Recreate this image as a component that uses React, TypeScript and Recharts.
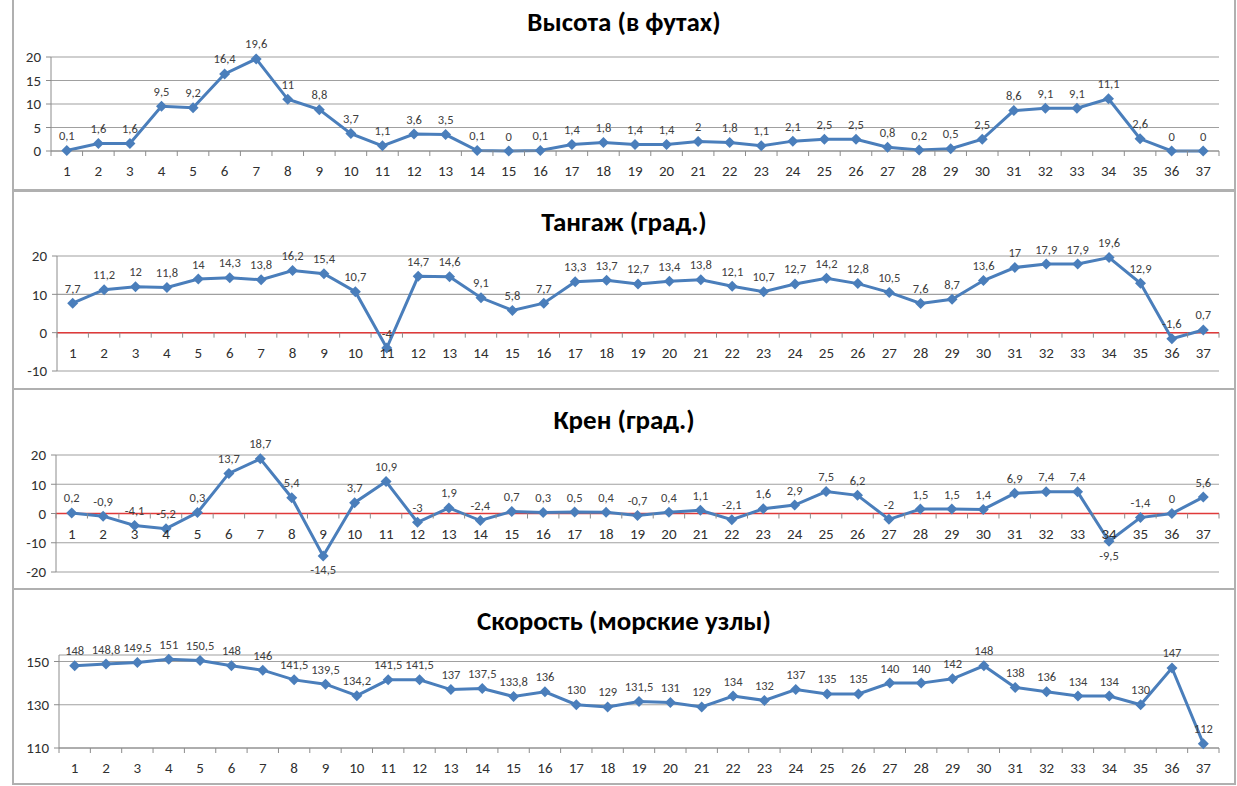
import React from "react"
import { LineChart, Line, XAxis, YAxis, CartesianGrid, ReferenceLine, LabelList } from "recharts"

// номера замеров
const categories = [
  "1", "2", "3", "4", "5", "6", "7", "8", "9", "10", "11", "12", "13", "14", "15", "16", "17", "18", "19",
  "20", "21", "22", "23", "24", "25", "26", "27", "28", "29", "30", "31", "32", "33", "34", "35", "36", "37",
]

const heightValues = [
  0.1, 1.6, 1.6, 9.5, 9.2, 16.4, 19.6, 11, 8.8, 3.7, 1.1, 3.6, 3.5, 0.1, 0, 0.1, 1.4, 1.8, 1.4,
  1.4, 2, 1.8, 1.1, 2.1, 2.5, 2.5, 0.8, 0.2, 0.5, 2.5, 8.6, 9.1, 9.1, 11.1, 2.6, 0, 0,
]
const pitchValues = [
  7.7, 11.2, 12, 11.8, 14, 14.3, 13.8, 16.2, 15.4, 10.7, -4, 14.7, 14.6, 9.1, 5.8, 7.7, 13.3, 13.7, 12.7,
  13.4, 13.8, 12.1, 10.7, 12.7, 14.2, 12.8, 10.5, 7.6, 8.7, 13.6, 17, 17.9, 17.9, 19.6, 12.9, -1.6, 0.7,
]
const rollValues = [
  0.2, -0.9, -4.1, -5.2, 0.3, 13.7, 18.7, 5.4, -14.5, 3.7, 10.9, -3, 1.9, -2.4, 0.7, 0.3, 0.5, 0.4, -0.7,
  0.4, 1.1, -2.1, 1.6, 2.9, 7.5, 6.2, -2, 1.5, 1.5, 1.4, 6.9, 7.4, 7.4, -9.5, -1.4, 0, 5.6,
]
const speedValues = [
  148, 148.8, 149.5, 151, 150.5, 148, 146, 141.5, 139.5, 134.2, 141.5, 141.5, 137, 137.5, 133.8, 136, 130, 129, 131.5,
  131, 129, 134, 132, 137, 135, 135, 140, 140, 142, 148, 138, 136, 134, 134, 130, 147, 112,
]

const heightTicks = [0, 5, 10, 15, 20]
const pitchTicks = [-10, 0, 10, 20]
const rollTicks = [-20, -10, 0, 10, 20]
const speedTicks = [110, 130, 150]

const BLUE = "#4a7ebb"
const FONT = "Carlito, 'Liberation Sans', Arial, sans-serif"
const PLOT_RIGHT = 1219
const PAGE_W = 1237

const fmt = (v: number) => String(v).replace(".", ",")

const Diamond = (props: any) => {
  const { cx, cy, index } = props
  if (cx == null || cy == null) return null
  const r = 5.5
  return (
    <polygon
      key={`d-${index}`}
      points={`${cx},${cy - r} ${cx + r},${cy} ${cx},${cy + r} ${cx - r},${cy}`}
      fill={BLUE}
    />
  )
}

const renderLabel = (props: any) => {
  const x = props.x ?? props.viewBox?.x
  const y = props.y ?? props.viewBox?.y
  const value = props.value as number
  const below = value < -9
  return (
    <text
      x={x}
      y={below ? y + 14 : y - 15}
      textAnchor="middle"
      dominantBaseline="central"
      fontSize={12.5}
      fontFamily={FONT}
      fill="#404040"
    >
      {fmt(value)}
    </text>
  )
}

interface PanelProps {
  title: string
  values: number[]
  ticks: number[]
  domain: [number, number]
  top: number
  bottom: number
  plotTop: number
  plotBottom: number
  plotLeft: number
  titleY: number
  zeroAxis?: boolean
}

function Panel({ title, values, ticks, domain, top, bottom, plotTop, plotBottom, plotLeft, titleY, zeroAxis }: PanelProps) {
  const data = categories.map((c, i) => ({ name: c, value: values[i] }))
  const band = (PLOT_RIGHT - plotLeft) / categories.length
  const plotH = plotBottom - plotTop
  // ось категорий пересекает ось значений в нуле
  const shift = zeroAxis ? -plotH * (0 - domain[0]) / (domain[1] - domain[0]) : 0
  const axisH = 30
  const chartH = plotBottom - top + axisH

  const CatTick = (props: any) => {
    const { x, y, payload, index } = props
    const base = y + shift
    return (
      <g>
        <line x1={x - band / 2} x2={x - band / 2} y1={base} y2={base + 5} stroke="#8c8c8c" />
        {index === categories.length - 1 && (
          <line x1={x + band / 2} x2={x + band / 2} y1={base} y2={base + 5} stroke="#8c8c8c" />
        )}
        <text
          x={x}
          y={base + 20}
          textAnchor="middle"
          dominantBaseline="central"
          fontSize={15}
          fontFamily={FONT}
          fill="#303030"
        >
          {payload.value}
        </text>
      </g>
    )
  }

  return (
    <>
      <div
        style={{
          position: "absolute",
          left: 12,
          top,
          width: 1236 - 12,
          height: bottom - top,
          border: "2px solid #b0b0b0",
          boxSizing: "border-box",
        }}
      />
      <div
        style={{
          position: "absolute",
          left: 12,
          width: 1224,
          top: titleY - 18,
          height: 36,
          lineHeight: "36px",
          textAlign: "center",
          fontFamily: FONT,
          fontWeight: "bold",
          fontSize: 27,
          color: "#000",
        }}
      >
        {title}
      </div>
      <div style={{ position: "absolute", left: 0, top }}>
        <LineChart
          width={PAGE_W}
          height={chartH}
          data={data}
          margin={{ top: plotTop - top, right: PAGE_W - PLOT_RIGHT, bottom: 0, left: plotLeft - 40 }}
        >
          <CartesianGrid vertical={false} stroke="#a0a0a0" strokeWidth={1.2} />
          <XAxis
            dataKey="name"
            interval={0}
            height={axisH}
            padding={{ left: band / 2, right: band / 2 }}
            tickSize={0}
            tickMargin={0}
            tickLine={false}
            axisLine={zeroAxis ? false : { stroke: "#8c8c8c" }}
            tick={<CatTick />}
          />
          <YAxis
            width={40}
            domain={domain}
            ticks={ticks}
            interval={0}
            tickSize={5}
            tickMargin={5}
            axisLine={{ stroke: "#8c8c8c" }}
            tickLine={{ stroke: "#8c8c8c" }}
            tick={{ fontSize: 15, fontFamily: FONT, fill: "#303030" }}
          />
          {zeroAxis && <ReferenceLine y={0} stroke="#e03a3a" strokeWidth={1.5} />}
          <Line
            type="linear"
            dataKey="value"
            stroke={BLUE}
            strokeWidth={3}
            dot={<Diamond />}
            activeDot={false}
            isAnimationActive={false}
          >
            <LabelList dataKey="value" content={renderLabel} />
          </Line>
        </LineChart>
      </div>
    </>
  )
}

export default function App() {
  return (
    <div
      style={{
        position: "absolute",
        left: 0,
        top: 0,
        width: PAGE_W,
        height: 786,
        background: "#fff",
        overflow: "hidden",
      }}
    >
      <Panel
        title="Высота (в футах)"
        values={heightValues}
        ticks={heightTicks}
        domain={[0, 20]}
        top={-2}
        bottom={191}
        plotTop={57}
        plotBottom={151}
        plotLeft={51}
        titleY={22}
      />
      <Panel
        title="Тангаж (град.)"
        values={pitchValues}
        ticks={pitchTicks}
        domain={[-10, 20]}
        top={190}
        bottom={390}
        plotTop={256}
        plotBottom={371}
        plotLeft={57}
        titleY={222}
        zeroAxis
      />
      <Panel
        title="Крен (град.)"
        values={rollValues}
        ticks={rollTicks}
        domain={[-20, 20]}
        top={388}
        bottom={590}
        plotTop={455}
        plotBottom={572}
        plotLeft={56}
        titleY={420}
        zeroAxis
      />
      <Panel
        title="Скорость (морские узлы)"
        values={speedValues}
        ticks={speedTicks}
        domain={[110, 153]}
        top={588}
        bottom={785}
        plotTop={655}
        plotBottom={748}
        plotLeft={59}
        titleY={621}
      />
    </div>
  )
}
